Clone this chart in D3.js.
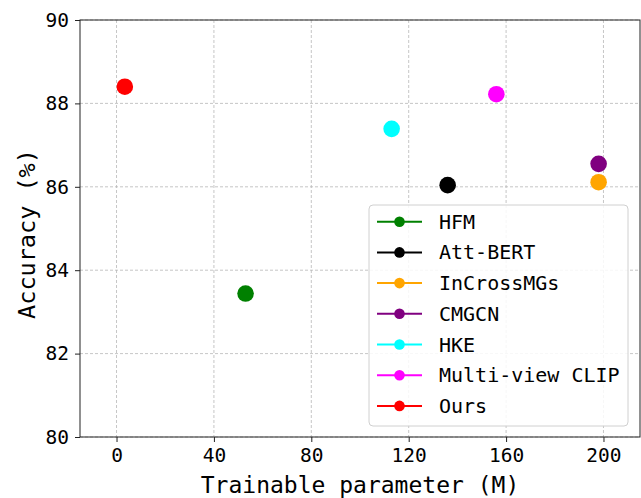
<!DOCTYPE html>
<html>
<head>
<meta charset="utf-8">
<script src="https://cdn.jsdelivr.net/npm/d3@7"></script>
<style>
  html, body { margin: 0; padding: 0; background: #fff; }
  svg { display: block; font-family: "DejaVu Sans Mono", monospace; }
</style>
</head>
<body>
<svg id="chart" width="641" height="498"></svg>
<script>
// ---- data ----
const methods = ["HFM", "Att-BERT", "InCrossMGs", "CMGCN", "HKE", "Multi-view CLIP", "Ours"];
const params = [53.0, 136.0, 198.0, 198.0, 113.0, 156.0, 3.4];
const accuracy = [83.44, 86.04, 86.11, 86.55, 87.39, 88.22, 88.4];
const colors = ["green", "black", "orange", "purple", "cyan", "magenta", "red"];
const xTicks = [0, 40, 80, 120, 160, 200];
const yTicks = [80, 82, 84, 86, 88, 90];
const xLabel = "Trainable parameter (M)";
const yLabel = "Accuracy (%)";

(function () {
const svg = d3.select("#chart");
const pL = 80, pR = 640, pT = 20, pB = 437;

const x = d3.scaleLinear().domain([-15, 215]).range([pL, pR]);
const y = d3.scaleLinear().domain([80, 90]).range([pB, pT]);

// grid
const grid = svg.append("g");
grid.selectAll("line.vx").data(xTicks).join("line")
  .attr("x1", d => x(d)).attr("x2", d => x(d))
  .attr("y1", pT).attr("y2", pB)
  .attr("stroke", "#b8b8b8").attr("stroke-width", 0.8)
  .attr("stroke-dasharray", "3,2");
grid.selectAll("line.hy").data(yTicks).join("line")
  .attr("x1", pL).attr("x2", pR)
  .attr("y1", d => y(d)).attr("y2", d => y(d))
  .attr("stroke", "#b8b8b8").attr("stroke-width", 0.8)
  .attr("stroke-dasharray", "3,2");

// axes
const xAxis = svg.append("g").attr("transform", `translate(0,${pB})`)
  .call(d3.axisBottom(x).tickValues(xTicks).tickSize(5).tickPadding(6).tickSizeOuter(0));
const yAxis = svg.append("g").attr("transform", `translate(${pL},0)`)
  .call(d3.axisLeft(y).tickValues(yTicks).tickSize(5).tickPadding(6).tickSizeOuter(0));
[xAxis, yAxis].forEach(g => {
  g.select(".domain").remove();
  g.selectAll("line").attr("stroke", "#222").attr("stroke-width", 1);
  g.selectAll("text").attr("font-family", "DejaVu Sans Mono").attr("font-size", 19.5).attr("fill", "#000");
});

// frame
svg.append("rect").attr("x", pL).attr("y", pT)
  .attr("width", pR - pL).attr("height", pB - pT)
  .attr("fill", "none").attr("stroke", "#222").attr("stroke-width", 1);

// points
const pts = methods.map((m, i) => ({ m, px: params[i], acc: accuracy[i], c: colors[i] }));
svg.append("g").selectAll("circle").data(pts).join("circle")
  .attr("cx", d => x(d.px)).attr("cy", d => y(d.acc))
  .attr("r", 8.3).attr("fill", d => d.c);

// axis labels
svg.append("text").attr("x", (pL + pR) / 2).attr("y", 493)
  .attr("text-anchor", "middle").attr("font-size", 23).text(xLabel);
svg.append("text").attr("transform", `translate(35,234) rotate(-90)`)
  .attr("text-anchor", "middle").attr("font-size", 23.5).text(yLabel);

// legend
const lg = svg.append("g");
lg.append("rect").attr("x", 369).attr("y", 205).attr("width", 259).attr("height", 221)
  .attr("rx", 4).attr("fill", "#fff").attr("fill-opacity", 0.85)
  .attr("stroke", "#d0d0d0").attr("stroke-width", 1);
const rowY = i => 221.7 + i * 30.7;
const items = lg.selectAll("g.item").data(pts).join("g")
  .attr("transform", (d, i) => `translate(0,${rowY(i)})`);
items.append("line").attr("x1", 377).attr("x2", 422).attr("y1", 0).attr("y2", 0)
  .attr("stroke", d => d.c).attr("stroke-width", 2);
items.append("circle").attr("cx", 399.5).attr("cy", 0).attr("r", 5.3).attr("fill", d => d.c);
items.append("text").attr("x", 439).attr("y", 7).attr("font-size", 20).text(d => d.m);
})();
</script>
</body>
</html>
